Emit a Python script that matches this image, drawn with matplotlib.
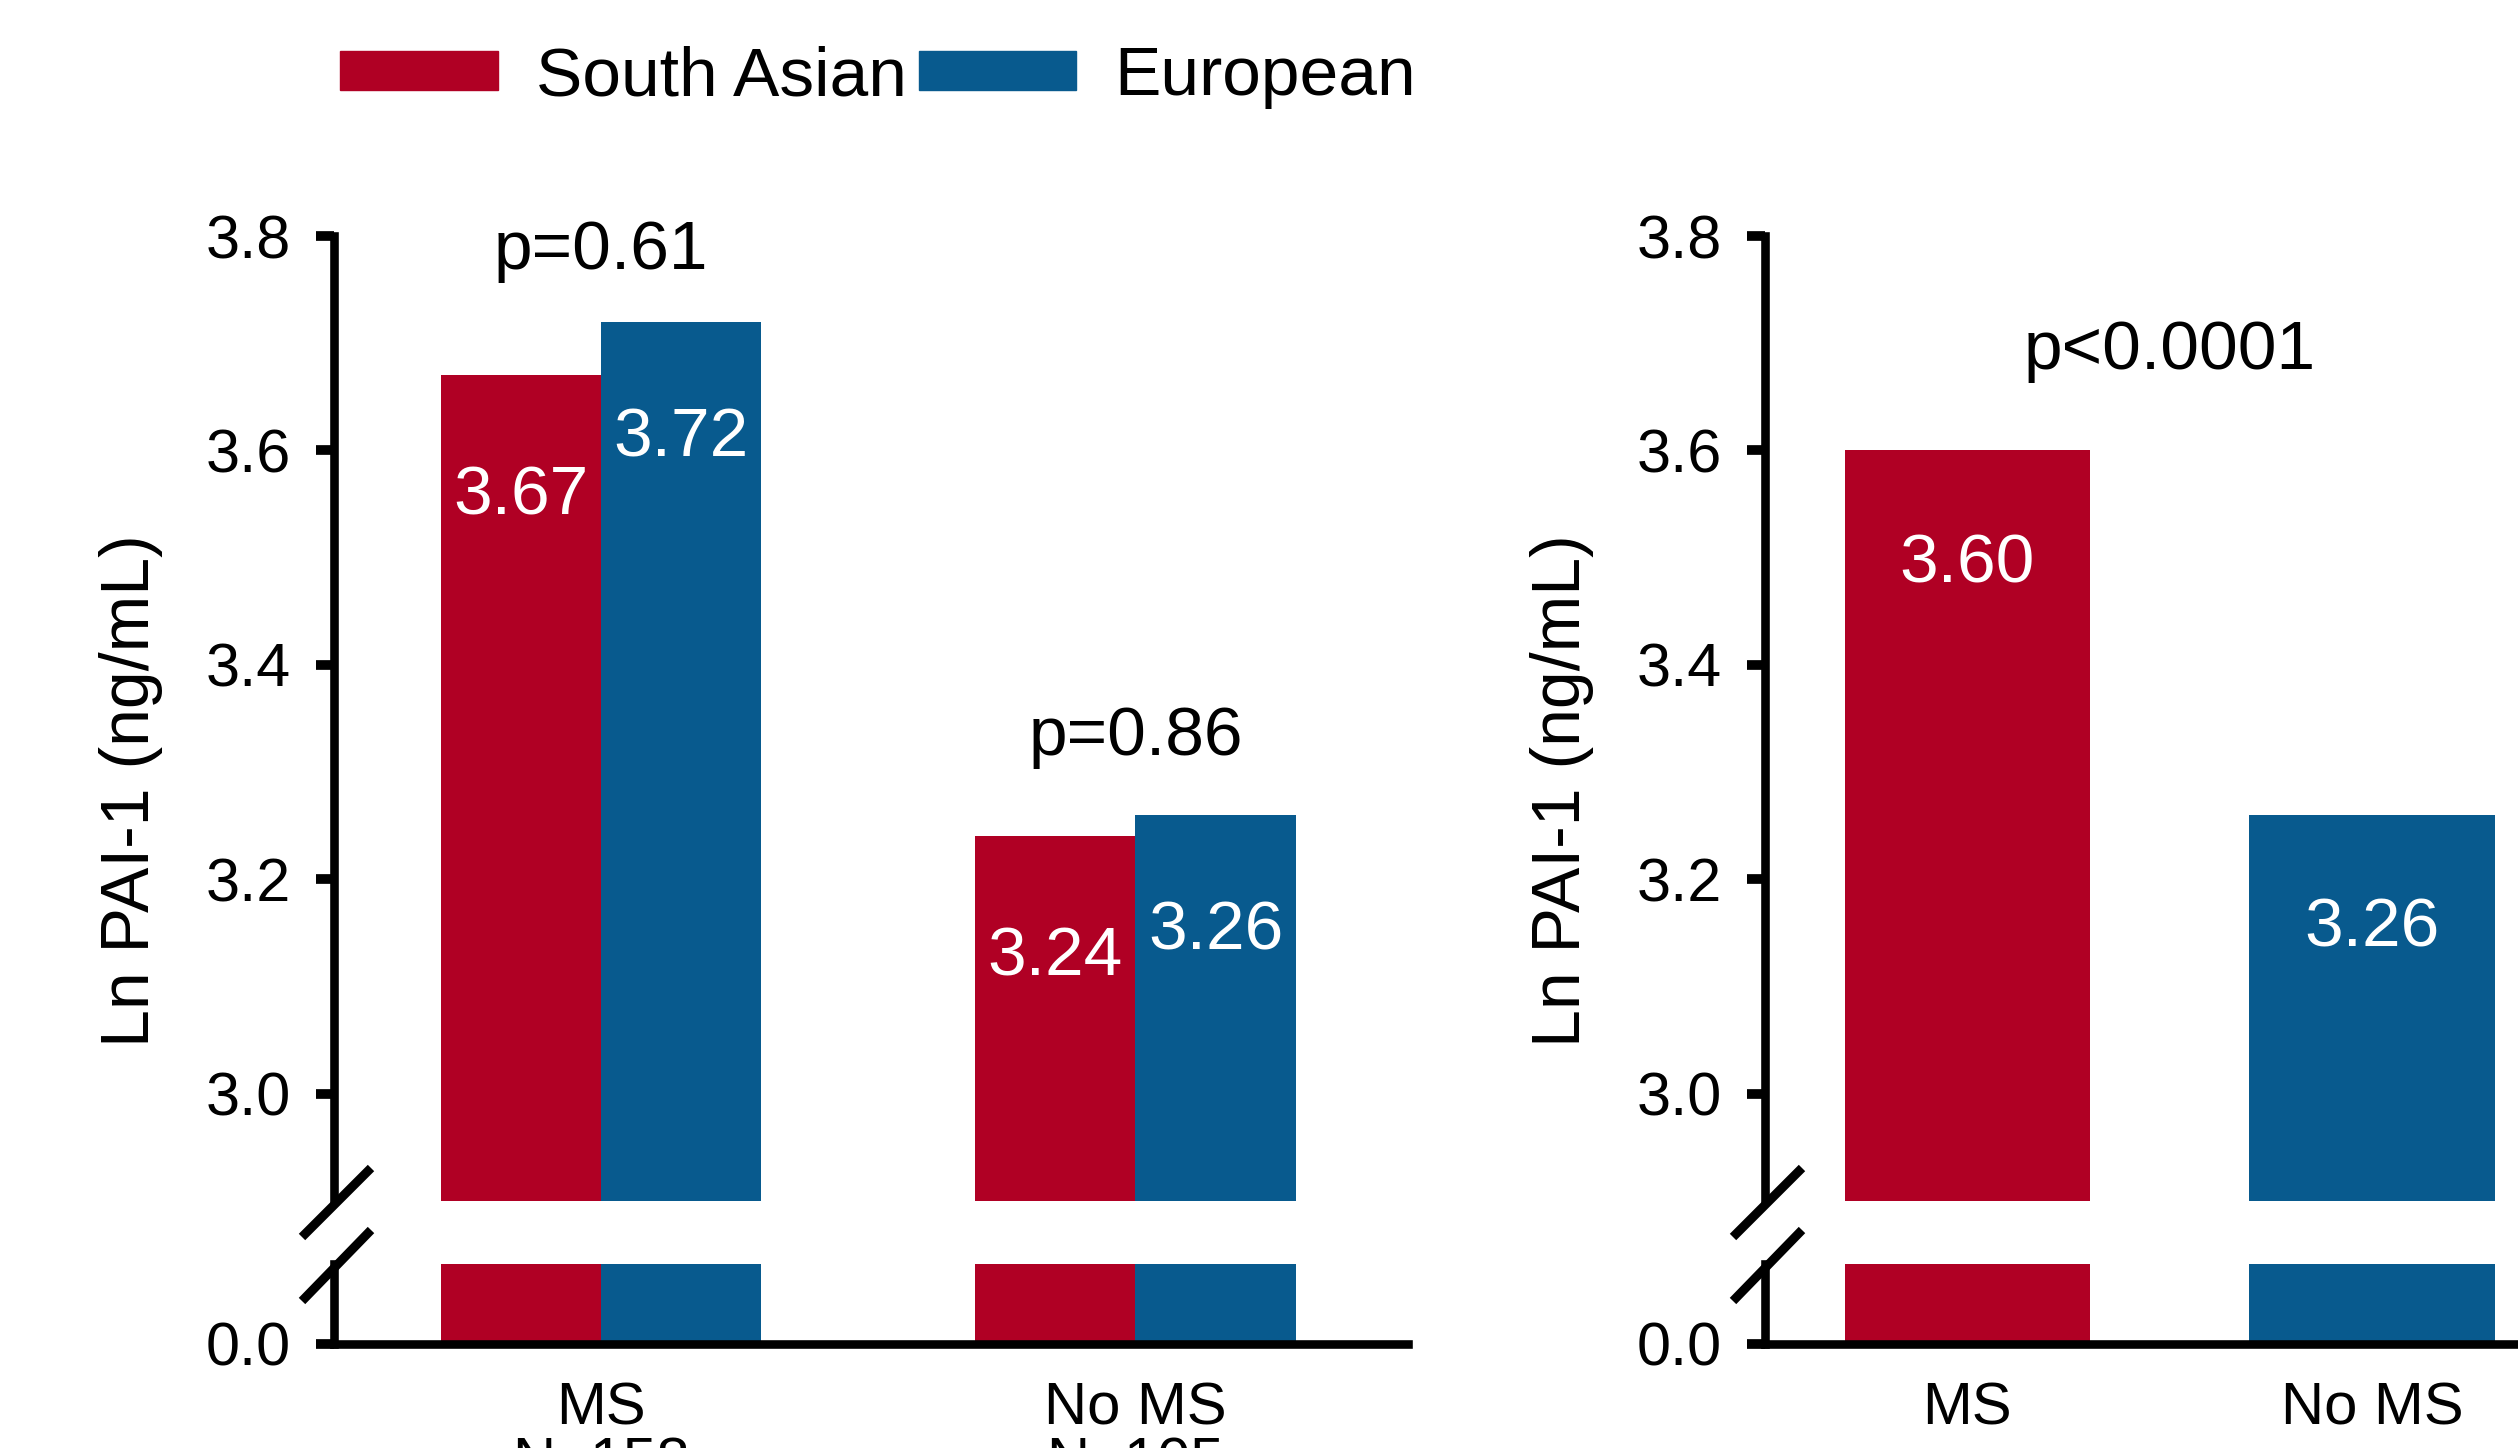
import matplotlib
matplotlib.use('Agg')
import numpy as np
import matplotlib.pyplot as plt
from matplotlib.patches import Patch
from matplotlib.lines import Line2D

plt.rcParams['font.family'] = ['Liberation Sans', 'DejaVu Sans']

# data
groups_left = ['MS\nN=158', 'No MS\nN=105']
south_asian = [3.67, 3.24]
european = [3.72, 3.26]
p_left = ['p=0.61', 'p=0.86']

groups_right = ['MS', 'No MS']
values_right = [3.60, 3.26]
p_right = 'p<0.0001'

y_ticks = [3.0, 3.2, 3.4, 3.6, 3.8]
y_label = 'Ln PAI-1 (ng/mL)'

red = '#B00024'
blue = '#085A8E'

W, H = 2518, 1448
fig = plt.figure(figsize=(W / 100, H / 100), dpi=100)

LW = 6.2


def make_panel(x0, width, xlim):
    left = x0 / W
    w = width / W
    ax_top = fig.add_axes([left, 1 - 1201 / H, w, (1201 - 236) / H])
    ax_bot = fig.add_axes([left, 1 - 1344 / H, w, (1344 - 1264) / H])
    for ax in (ax_top, ax_bot):
        ax.set_xlim(*xlim)
        ax.spines['top'].set_visible(False)
        ax.spines['right'].set_visible(False)
        ax.spines['left'].set_linewidth(LW)
        ax.spines['bottom'].set_linewidth(LW)
        ax.tick_params(axis='y', length=13, width=7, pad=18, labelsize=44)
    ax_top.spines['bottom'].set_visible(False)
    ax_top.set_ylim(2.9, 3.8)
    ax_top.set_yticks(y_ticks)
    ax_top.set_yticklabels([f'{t:.1f}' for t in y_ticks])
    ax_top.tick_params(axis='x', bottom=False, labelbottom=False)
    ax_bot.set_ylim(0, 0.0744)
    ax_bot.set_yticks([0])
    ax_bot.set_yticklabels(['0.0'])
    ax_bot.tick_params(axis='x', length=0, pad=27, labelsize=43)

    # axis break marks
    sx = x0
    for ya, yb in [(1237, 1168), (1301, 1230)]:
        fig.add_artist(Line2D([(sx - 32) / W, (sx + 37) / W], [1 - ya / H, 1 - yb / H],
                              transform=fig.transFigure, color='black', lw=6.5,
                              solid_capstyle='butt'))
    fig.text((x0 - 203) / W, 1 - 791 / H, y_label, rotation=90, ha='center',
             va='center', fontsize=49)
    return ax_top, ax_bot


# left panel: by ethnicity
ax1, ax1b = make_panel(334, 1074, (-0.5, 1.51))
x = np.arange(len(groups_left))
bw = 0.3
for ax in (ax1, ax1b):
    ax.bar(x - bw / 2, south_asian, bw, color=red, linewidth=0)
    ax.bar(x + bw / 2, european, bw, color=blue, linewidth=0)
ax1b.set_xticks(x)
ax1b.set_xticklabels(groups_left, linespacing=1.0)

for xi, v in zip(x, south_asian):
    ax1.annotate(f'{v:.2f}', (xi - bw / 2, v), xytext=(0, -87), textcoords='offset points',
                 ha='center', va='center', color='white', fontsize=50)
for xi, v in zip(x, european):
    ax1.annotate(f'{v:.2f}', (xi + bw / 2, v), xytext=(0, -84), textcoords='offset points',
                 ha='center', va='center', color='white', fontsize=50)
for xi, p, off, a, b in zip(x, p_left, [38, 43], south_asian, european):
    ax1.annotate(p, (xi, max(a, b)), xytext=(0, off), textcoords='offset points',
                 ha='center', va='baseline', fontsize=50, annotation_clip=False)

# right panel: MS vs no MS
ax2, ax2b = make_panel(1765, 850, (-0.5, 1.6))
xr = np.arange(len(groups_right))
for ax in (ax2, ax2b):
    ax.bar(xr, values_right, 0.607, color=[red, blue], linewidth=0)
ax2b.set_xticks(xr)
ax2b.set_xticklabels(groups_right)
for xi, v in zip(xr, values_right):
    ax2.annotate(f'{v:.2f}', (xi, v), xytext=(0, -82), textcoords='offset points',
                 ha='center', va='center', color='white', fontsize=50)
ax2.annotate(p_right, (xr.mean(), max(values_right)), xytext=(0, 59),
             textcoords='offset points', ha='center', va='baseline', fontsize=50)

handles = [Patch(color=red, label='South Asian'), Patch(color=blue, label='European')]
fig.legend(handles=handles, loc='center left', bbox_to_anchor=(340 / W, 1 - 77 / H),
           ncol=2, frameon=False, fontsize=50, handlelength=2.27, handleheight=0.5,
           handletextpad=0.55, columnspacing=0.17, borderpad=0, borderaxespad=0)

fig.savefig('out.png', dpi=100)
